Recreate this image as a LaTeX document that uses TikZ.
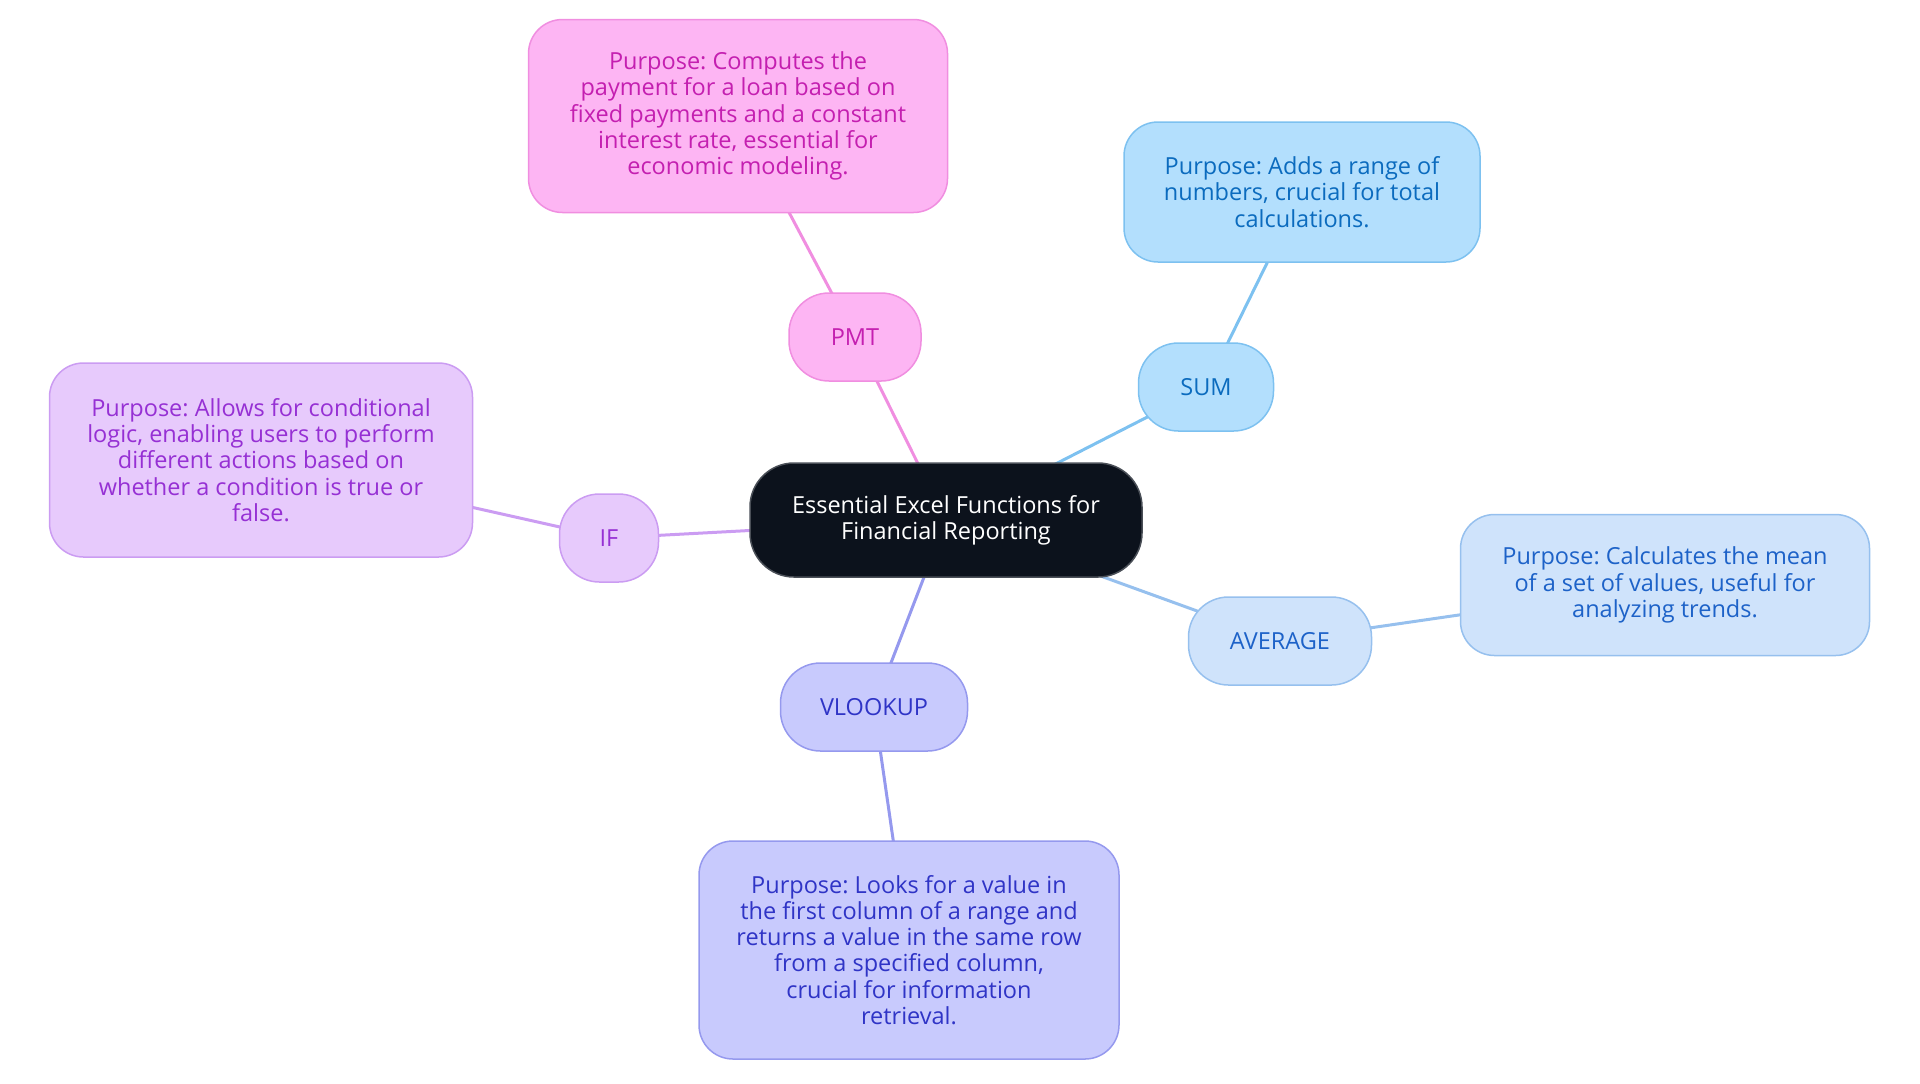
\documentclass[tikz,border=0pt]{standalone}
\usepackage{fontspec}
\setmainfont{Open Sans}
\usepackage{tikz}
\usetikzlibrary{backgrounds}
\frenchspacing

\definecolor{HubFill}{HTML}{0C121C}
\definecolor{HubLine}{HTML}{4A4F57}
\definecolor{PmtFill}{HTML}{FDB5F3}
\definecolor{PmtLine}{HTML}{F08EE0}
\definecolor{PmtText}{HTML}{C41FB0}
\definecolor{SumFill}{HTML}{B3DFFD}
\definecolor{SumLine}{HTML}{7DC1F0}
\definecolor{SumText}{HTML}{0B6BBE}
\definecolor{IfFill}{HTML}{E7CAFC}
\definecolor{IfLine}{HTML}{CB9CF2}
\definecolor{IfText}{HTML}{9630D4}
\definecolor{AvgFill}{HTML}{CFE3FB}
\definecolor{AvgLine}{HTML}{96C0EE}
\definecolor{AvgText}{HTML}{1D62C8}
\definecolor{VlkFill}{HTML}{C8CAFD}
\definecolor{VlkLine}{HTML}{9599EE}
\definecolor{VlkText}{HTML}{2F34C6}

\begin{document}
\begin{tikzpicture}[x=0.5pt, y=-0.5pt,
	every node/.style={font=\fontsize{11.75}{13.1}\selectfont, align=center, inner sep=0pt},
	hub/.style={draw=HubLine, fill=HubFill, text=white, line width=0.75pt, rounded corners=22pt, minimum width=196pt, minimum height=57pt},
	topic/.style={line width=0.75pt, rounded corners=20pt, minimum height=44pt},
	note/.style={line width=0.75pt, rounded corners=17pt},
	link/.style={line width=1.5pt}]
	\useasboundingbox (0,0) rectangle (1920,1083);
	\node[hub] (hub) at (946,520) {Essential Excel Functions for\\Financial Reporting};
	% first ring
	\node[topic, draw=PmtLine, fill=PmtFill, text=PmtText, minimum width=66pt] (pmt) at (855,337) {PMT};
	\node[topic, draw=SumLine, fill=SumFill, text=SumText, minimum width=67.5pt] (sum) at (1206,387) {SUM};
	\node[topic, draw=IfLine, fill=IfFill, text=IfText, minimum width=49.5pt] (if) at (609,538) {IF};
	\node[topic, draw=AvgLine, fill=AvgFill, text=AvgText, minimum width=91.5pt] (avg) at (1280,641) {AVERAGE};
	\node[topic, draw=VlkLine, fill=VlkFill, text=VlkText, minimum width=93.5pt] (vlk) at (874,707) {VLOOKUP};
	% purposes
	\node[note, draw=PmtLine, fill=PmtFill, text=PmtText, minimum width=209.5pt, minimum height=96.5pt] (pmtnote) at (738,116)
	  {Purpose: Computes the\\payment for a loan based on\\fixed payments and a constant\\interest rate, essential for\\economic modeling.};
	\node[note, draw=SumLine, fill=SumFill, text=SumText, minimum width=178pt, minimum height=70pt] (sumnote) at (1302,192)
	  {Purpose: Adds a range of\\numbers, crucial for total\\calculations.};
	\node[note, draw=IfLine, fill=IfFill, text=IfText, minimum width=211.5pt, minimum height=97pt] (ifnote) at (261,460)
	  {Purpose: Allows for conditional\\logic, enabling users to perform\\different actions based on\\whether a condition is true or\\false.};
	\node[note, draw=AvgLine, fill=AvgFill, text=AvgText, minimum width=204.5pt, minimum height=70.5pt] (avgnote) at (1665,585)
	  {Purpose: Calculates the mean\\of a set of values, useful for\\analyzing trends.};
	\node[note, draw=VlkLine, fill=VlkFill, text=VlkText, minimum width=210pt, minimum height=109pt] (vlknote) at (909,950)
	  {Purpose: Looks for a value in\\the first column of a range and\\returns a value in the same row\\from a specified column,\\crucial for information\\retrieval.};
	\begin{pgfonlayer}{background}
	\draw[link, PmtLine] (hub.center) -- (pmt.center) -- (pmtnote.center);
	\draw[link, SumLine] (hub.center) -- (sum.center) -- (sumnote.center);
	\draw[link, IfLine] (hub.center) -- (if.center) -- (ifnote.center);
	\draw[link, AvgLine] (hub.center) -- (avg.center) -- (avgnote.center);
	\draw[link, VlkLine] (hub.center) -- (vlk.center) -- (vlknote.center);
	\end{pgfonlayer}
\end{tikzpicture}
\end{document}
